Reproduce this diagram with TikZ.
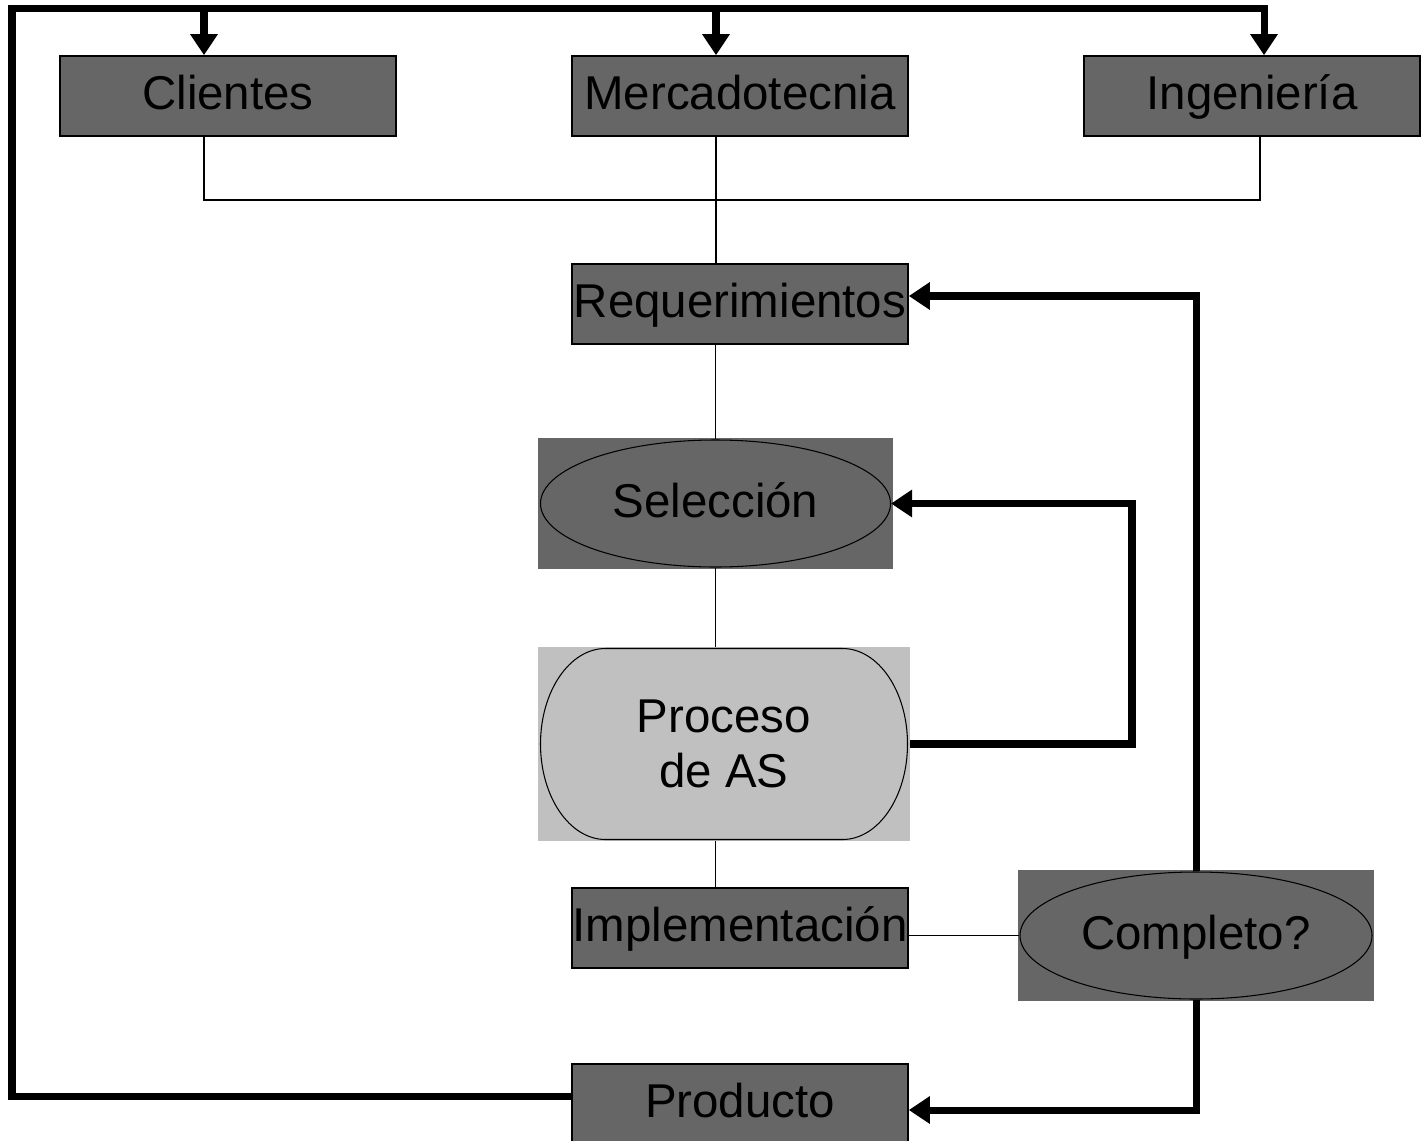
\documentclass[tikz,border=0pt]{standalone}
\usepackage{fontspec}
\setmainfont{Liberation Sans}
\usetikzlibrary{shapes.geometric}
\usetikzlibrary{arrows.meta}

\definecolor{boxgrey}{RGB}{102,102,102}
\definecolor{softgrey}{RGB}{192,192,192}

\begin{document}
\begin{tikzpicture}[
    font=\fontsize{27}{31}\selectfont,
    block/.style={rectangle,draw,fill=boxgrey,line width=0.9pt,minimum width=6.72cm,minimum height=1.6cm,inner sep=0pt,text height=21pt,text depth=5.1pt},
    backing/.style={rectangle,inner sep=0pt},
    oval/.style={ellipse,draw,line width=0.6pt,inner sep=0pt,text height=21pt,text depth=5.1pt},
    link/.style={line width=0.85pt},
    loop/.style={line width=4pt},
    arrow/.style={loop,-{Triangle[width=15pt,length=12pt]}}
]
\useasboundingbox (0,0) rectangle (28.46,-22.8);

\node[block] (cli) at (4.56,-1.92) {Clientes};
\node[block] (mer) at (14.8,-1.92) {Mercadotecnia};
\node[block] (ing) at (25.04,-1.92) {Ingeniería};
\node[block] (req) at (14.8,-6.08) {Requerimientos};
\node[backing,fill=boxgrey,minimum width=7.1cm,minimum height=2.62cm] (selbg) at (14.31,-10.07) {};
\node[oval,minimum width=7cm,minimum height=2.54cm] (sel) at (selbg) {Selección};
\node[backing,fill=softgrey,minimum width=7.44cm,minimum height=3.88cm,align=center] (pro) at (14.48,-14.88) {Proceso\\de AS};
\node[block] (impl) at (14.8,-18.56) {Implementación};
\node[backing,fill=boxgrey,minimum width=7.12cm,minimum height=2.62cm] (compbg) at (23.92,-18.71) {};
\node[oval,minimum width=7.04cm,minimum height=2.54cm] (comp) at (compbg) {Completo?};
\node[block] (prod) at (14.8,-22.08) {Producto};

% outline of the process step
\draw[line width=0.6pt] ([xshift=-2.37cm,yshift=1.91cm]pro.center) -- ([xshift=2.37cm,yshift=1.91cm]pro.center)
    arc[start angle=90,end angle=-90,x radius=1.3cm,y radius=1.91cm]
    -- ([xshift=-2.37cm,yshift=-1.91cm]pro.center)
    arc[start angle=270,end angle=90,x radius=1.3cm,y radius=1.91cm] -- cycle;

\coordinate (hub) at (14.32,-4.0);
\coordinate (topleft) at (0.24,-0.17);
\coordinate (selret) at (22.64,-10.07);
\coordinate (cliin) at ([xshift=-0.48cm]cli.north);
\coordinate (merin) at ([xshift=-0.48cm]mer.north);
\coordinate (ingin) at ([xshift=0.24cm]ing.north);
\coordinate (cliout) at ([xshift=-0.48cm]cli.south);
\coordinate (ingout) at ([xshift=0.16cm]ing.south);

% thin links
\draw[link] (cliout) |- (hub) -| (ingout);
\draw[link] (mer.south -| hub) -- (req.north -| hub);
\draw[link] (req.south -| sel.north) -- (sel.north);
\draw[link] (sel.south) -- (sel.south |- pro.north);
\draw[link] (pro.south -| sel.south) -- (impl.north -| sel.south);
\draw[link] (impl.east |- comp.west) -- (comp.west);

% feedback
\draw[arrow] (comp.north) |- ([yshift=0.16cm]req.east);
\draw[arrow] (pro.east) -| (selret) -- (sel.east);
\draw[arrow] (comp.south) |- ([yshift=-0.12cm]prod.east);
\draw[arrow] ([yshift=0.16cm]prod.west) -| (topleft) -| (ingin);
\draw[arrow] (cliin |- topleft) -- (cliin);
\draw[arrow] (merin |- topleft) -- (merin);
\end{tikzpicture}
\end{document}
